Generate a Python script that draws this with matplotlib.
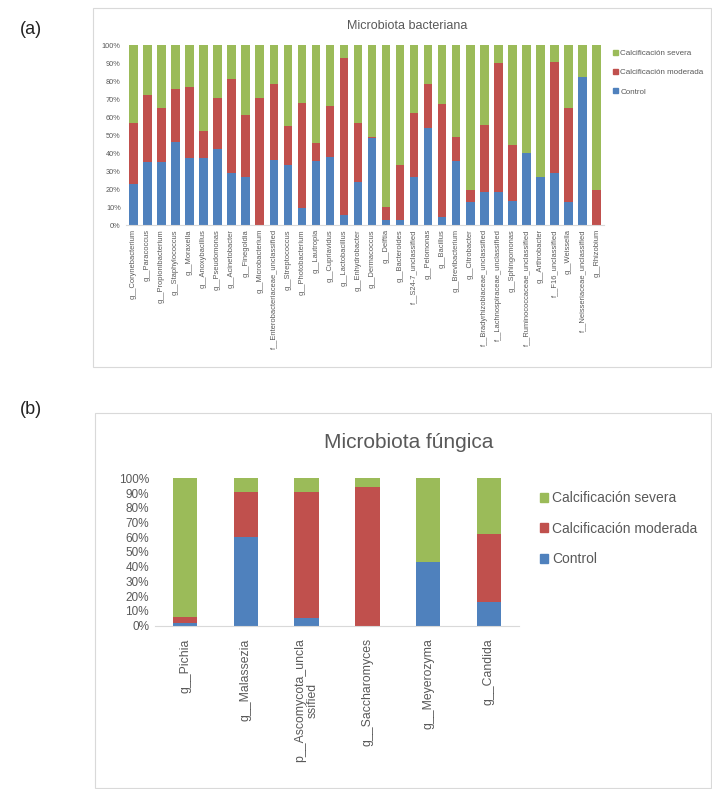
import numpy as np
import matplotlib
matplotlib.use("Agg")
import matplotlib.pyplot as plt
from matplotlib.patches import Patch, Rectangle

plt.rcParams['font.family'] = ['Liberation Sans', 'DejaVu Sans']

# --- data: panel (a) bacterias ---
bact_labels = ['g__Corynebacterium', 'g__Paracoccus', 'g__Propionibacterium', 'g__Staphylococcus',
               'g__Moraxella', 'g__Anoxybacillus', 'g__Pseudomonas', 'g__Acinetobacter',
               'g__Finegoldia', 'g__Microbacterium', 'f__Enterobacteriaceae_unclassified',
               'g__Streptococcus', 'g__Photobacterium', 'g__Lautropia', 'g__Cupriavidus',
               'g__Lactobacillus', 'g__Enhydrobacter', 'g__Dermacoccus', 'g__Delftia',
               'g__Bacteroides', 'f__S24-7_unclassified', 'g__Pelomonas', 'g__Bacillus',
               'g__Brevibacterium', 'g__Citrobacter', 'f__Bradyrhizobiaceae_unclassified',
               'f__Lachnospiraceae_unclassified', 'g__Sphingomonas',
               'f__Ruminococcaceae_unclassified', 'g__Arthrobacter', 'f__F16_unclassified',
               'g__Weissella', 'f__Neisseriaceae_unclassified', 'g__Rhizobium']
bact_control = [22.6, 35.2, 34.8, 46.3, 37.4, 37.4, 42.0, 29.0, 26.9, 0.0, 36.1, 33.3, 9.3, 35.6,
                38.0, 5.6, 24.0, 48.1, 2.8, 2.8, 26.9, 53.7, 4.3, 35.6, 13.0, 18.1, 18.5, 13.3,
                39.8, 26.9, 28.7, 13.0, 82.4, 0.0]
bact_moderada = [33.9, 37.0, 30.4, 29.3, 39.5, 15.0, 28.4, 52.0, 34.2, 70.4, 42.2, 21.7, 58.3, 9.8,
                 28.1, 87.4, 32.5, 0.6, 7.4, 30.5, 35.1, 24.4, 62.9, 13.4, 6.4, 37.5, 71.3, 31.1,
                 0.0, 0.0, 62.0, 52.2, 0.0, 19.4]
bact_severa = [43.5, 27.8, 34.8, 24.4, 23.1, 47.6, 29.6, 19.0, 38.9, 29.6, 21.7, 45.0, 32.4, 54.6,
               33.9, 7.0, 43.5, 51.3, 89.8, 66.7, 38.0, 21.9, 32.8, 51.0, 80.6, 44.4, 10.2, 55.6,
               60.2, 73.1, 9.3, 34.8, 17.6, 80.6]

# --- data: panel (b) hongos ---
fung_labels = ['g__Pichia', 'g__Malassezia', 'p__Ascomycota_uncla\nssified',
               'g__Saccharomyces', 'g__Meyerozyma', 'g__Candida']
fung_control = [2, 60, 5, 0, 43, 16]
fung_moderada = [4, 31, 86, 94, 0, 46]
fung_severa = [94, 9, 9, 6, 57, 38]

series_names = ['Control', 'Calcificación moderada', 'Calcificación severa']
colors = ['#4F81BD', '#C0504D', '#9BBB59']
txt = '#595959'

W, H = 712, 789
fig = plt.figure(figsize=(W / 100, H / 100), dpi=100)


def box(x0, y0, x1, y1):
    # rectangle in pixel coords (top-left origin)
    return [x0 / W, 1 - y1 / H, (x1 - x0) / W, (y1 - y0) / H]


def stacked(ax, labels, series, width):
    x = np.arange(len(labels))
    bottom = np.zeros(len(labels))
    for vals, c in zip(series, colors):
        ax.bar(x, vals, width, bottom=bottom, color=c, linewidth=0)
        bottom += np.array(vals)
    ax.set_xlim(-0.5, len(labels) - 0.5)
    ax.set_ylim(0, 100)
    ax.set_yticks(np.arange(0, 101, 10))
    ax.set_yticklabels([f'{v}%' for v in range(0, 101, 10)])
    ax.set_xticks(x)
    ax.set_xticklabels(labels, rotation=90, va='top', ha='center', linespacing=1.1)
    for s in ['top', 'right', 'left']:
        ax.spines[s].set_visible(False)
    ax.spines['bottom'].set_color('#d9d9d9')
    ax.tick_params(length=0, colors=txt)


# frames of the two chart areas
fig.add_artist(Rectangle((93 / W, 1 - 367 / H), (711 - 93) / W, (367 - 8) / H,
                         transform=fig.transFigure, fill=False, edgecolor='#d9d9d9', linewidth=0.8))
fig.add_artist(Rectangle((95 / W, 0.001), (711 - 95) / W, (788 - 413) / H,
                         transform=fig.transFigure, fill=False, edgecolor='#d9d9d9', linewidth=0.8))

fig.text(20 / W, 1 - 30 / H, '(a)', fontsize=13, va='center', ha='left', color='#222222')
fig.text(20 / W, 1 - 410 / H, '(b)', fontsize=13, va='center', ha='left', color='#222222')

# panel (a)
ax1 = fig.add_axes(box(126.3, 45, 603.7, 225))
stacked(ax1, bact_labels, [bact_control, bact_moderada, bact_severa], 0.6)
ax1.tick_params(axis='y', labelsize=5.3, pad=4)
ax1.tick_params(axis='x', labelsize=5.4, pad=3)
fig.text(407 / W, 1 - 26 / H, 'Microbiota bacteriana', fontsize=9, color=txt, ha='center', va='center')
h1 = [Patch(color=c, label=n) for c, n in zip(colors, series_names)][::-1]
fig.legend(handles=h1, loc='upper left', bbox_to_anchor=(613 / W, 1 - 50 / H), frameon=False,
           fontsize=5.8, labelcolor=txt, handlelength=0.6, handleheight=0.6, handletextpad=0.3,
           labelspacing=1.45, borderpad=0, borderaxespad=0)

# panel (b)
ax2 = fig.add_axes(box(154.6, 478.3, 519.4, 625.7))
stacked(ax2, fung_labels, [fung_control, fung_moderada, fung_severa], 0.4)
ax2.tick_params(axis='y', labelsize=8.5, pad=4)
ax2.tick_params(axis='x', labelsize=8.8, pad=9)
fig.text(409 / W, 1 - 443 / H, 'Microbiota fúngica', fontsize=15, color=txt, ha='center', va='center')
h2 = [Patch(color=c, label=n) for c, n in zip(colors, series_names)][::-1]
fig.legend(handles=h2, loc='upper left', bbox_to_anchor=(540 / W, 1 - 491 / H), frameon=False,
           fontsize=10, labelcolor=txt, handlelength=0.6, handleheight=0.6, handletextpad=0.3,
           labelspacing=1.2, borderpad=0, borderaxespad=0)

fig.savefig('out.png', dpi=100)
